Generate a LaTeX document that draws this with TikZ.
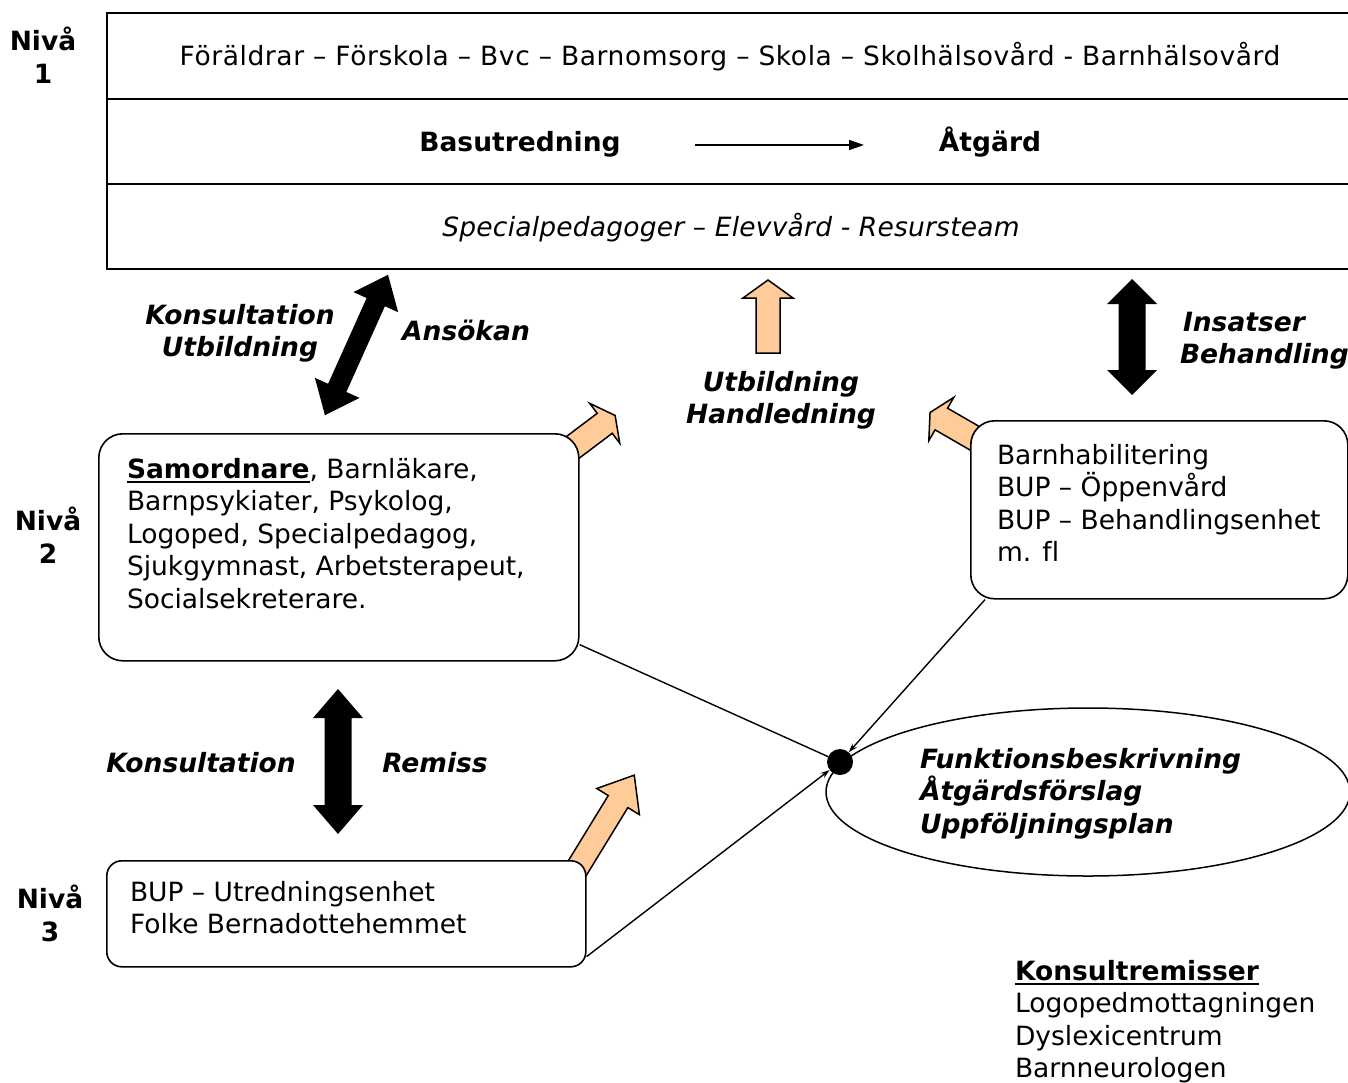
\documentclass[tikz,border=0pt]{standalone}
\usepackage{fontspec}
\setmainfont{DejaVu Sans}[Ligatures=NoCommon]
\usetikzlibrary{arrows.meta,shapes.geometric,calc}

\definecolor{peachfill}{HTML}{FFCC99}
\newcommand\fs{\fontsize{26.5}{32.5}\selectfont}
% bold text with a thick underline
\newcommand\ulb[1]{\setbox0\hbox{\textbf{#1}}\rlap{\rule[-5pt]{\wd0}{2.4pt}}\box0}

% block arrow: tail x, tail y, angle, length, shaft width, head width, head length
\newcommand\blockarrow[7]{%
  \begin{scope}[shift={(#1,#2)}, rotate=#3]
    \path[peach] (0,-#5/2) -- (#4-#7,-#5/2) -- (#4-#7,-#6/2) -- (#4,0)
      -- (#4-#7,#6/2) -- (#4-#7,#5/2) -- (0,#5/2) -- cycle;
  \end{scope}}
% double block arrow: centre x, centre y, angle, length, shaft width, head width, head length
\newcommand\twowayarrow[7]{%
  \begin{scope}[shift={(#1,#2)}, rotate=#3]
    \fill (-#4/2,0) -- (-#4/2+#7,#6/2) -- (-#4/2+#7,#5/2) -- (#4/2-#7,#5/2)
      -- (#4/2-#7,#6/2) -- (#4/2,0) -- (#4/2-#7,-#6/2) -- (#4/2-#7,-#5/2)
      -- (-#4/2+#7,-#5/2) -- (-#4/2+#7,-#6/2) -- cycle;
  \end{scope}}

\tikzset{
  txt/.style={inner sep=0pt, outer sep=0pt, font=\fs},
  lbl/.style={txt, font=\fs\bfseries\itshape},
  nivalbl/.style={txt, align=center, anchor=north, font=\fs\bfseries},
  rowbox/.style={draw, line width=2pt, minimum width=1254pt, anchor=north west, inner sep=0pt},
  rbox/.style={draw, line width=1.6pt, fill=white, rounded corners=24pt, anchor=north west, inner sep=0pt},
  link/.style={line width=1.4pt},
  peach/.style={draw, line width=1.5pt, fill=peachfill, line join=miter},
}

\begin{document}
\begin{tikzpicture}[x=1pt, y=-1pt]
\useasboundingbox (0,0) rectangle (1348,1082);
\clip (0,0) rectangle (1348,1082);

% level 1: three stacked rows
\node[rowbox, minimum height=86pt] (r1) at (106,12) {};
\node[rowbox, minimum height=85pt] (r2) at (106,98) {};
\node[rowbox, minimum height=85pt] (r3) at (106,183) {};
\node[txt, anchor=base] (parties) at (730,65)
  {\addfontfeature{LetterSpace=2.2}Föräldrar – Förskola – Bvc – Barnomsorg – Skola – Skolhälsovård - Barnhälsovård};
\node[txt, font=\fs\bfseries, anchor=base] (bas) at (520,151) {Basutredning};
\node[txt, font=\fs\bfseries, anchor=base] (atg) at (990,151) {Åtgärd};
\coordinate (ba1) at (695,145);
\coordinate (ba2) at (864,145);
\draw[line width=1.5pt, -{Triangle[length=15pt,width=10pt]}] (ba1) -- (ba2);
\node[txt, font=\fs\itshape, anchor=base] (spec) at (731,236)
  {\addfontfeature{LetterSpace=0.8}Specialpedagoger – Elevvård - Resursteam};

% level labels
\node[nivalbl] (niva1) at (43,27) {Nivå\\1};
\node[nivalbl] (niva2) at (48,507) {Nivå\\2};
\node[nivalbl] (niva3) at (50,885) {Nivå\\3};

% black two-way arrows
\twowayarrow{356.5}{345}{65.8}{154}{20}{49}{30}
\twowayarrow{1132}{337}{90}{116}{27}{50}{25}
\twowayarrow{338}{761.5}{90}{145}{27}{50}{29}

% peach arrows (tails hidden under the boxes)
\blockarrow{768}{353}{90}{73}{24}{50}{18}
\blockarrow{560}{457}{37}{69}{25}{50}{13}
\blockarrow{995}{450}{150}{75}{25}{50}{13}
\blockarrow{570}{880}{58.5}{123}{23}{50}{31}

% arrow labels
\node[lbl, align=center, anchor=north] (konsutb) at (240,304) {Konsultation\\Utbildning};
\node[lbl, anchor=base] (ansokan) at (466,340) {Ansökan};
\node[lbl, align=center, anchor=north] (utbhand) at (781,371) {Utbildning\\Handledning};
\node[lbl, align=left, anchor=north west] (insats) at (1180,312) {\hspace{3pt}Insatser\\Behandling};
\node[lbl, anchor=base] (kons) at (201,772) {Konsultation};
\node[lbl, anchor=base] (remiss) at (435,772) {Remiss};

% level 2 and 3 boxes
\node[rbox, minimum width=480pt, minimum height=227pt] (n2) at (98,433) {};
\node[txt, align=left, anchor=north west] (n2t) at (127,458)
  {\ulb{Samordnare}, Barnläkare,\\Barnpsykiater, Psykolog,\\Logoped, Specialpedagog,\\Sjukgymnast, Arbetsterapeut,\\Socialsekreterare.};
\node[rbox, minimum width=377pt, minimum height=178pt] (bh) at (970,420) {};
\node[txt, align=left, anchor=north west] (bht) at (997,444)
  {Barnhabilitering\\BUP – Öppenvård\\BUP – Behandlingsenhet\\m. fl};
\node[rbox, rounded corners=15pt, minimum width=479pt, minimum height=106pt] (n3) at (106,860) {};
\node[txt, align=left, anchor=north west] (n3t) at (130,881)
  {BUP – Utredningsenhet\\Folke Bernadottehemmet};

% result ellipse and the meeting point
\node[draw, ellipse, line width=1.5pt, minimum width=524pt, minimum height=168pt, inner sep=0pt] (ell) at (1088,792) {};
\node[lbl, align=left, anchor=north west] (ellt) at (920,748)
  {Funktionsbeskrivning\\Åtgärdsförslag\\Uppföljningsplan};
\node[circle, fill, minimum size=26pt, inner sep=0pt] (hub) at (840,762) {};
\draw[link] ($(n2.south east)+(0,-17)$) -- (hub);
\draw[link, -{Stealth[length=9pt,width=6pt]}] ($(bh.south west)+(15,0)$) -- (hub);
\draw[link, -{Stealth[length=9pt,width=6pt]}] ($(n3.south east)+(0,-11)$) -- (hub);

% consultant referrals
\node[txt, align=left, anchor=north west] (konsrem) at (1015,960)
  {\ulb{Konsultremisser}\\Logopedmottagningen\\Dyslexicentrum\\Barnneurologen};
\end{tikzpicture}
\end{document}
